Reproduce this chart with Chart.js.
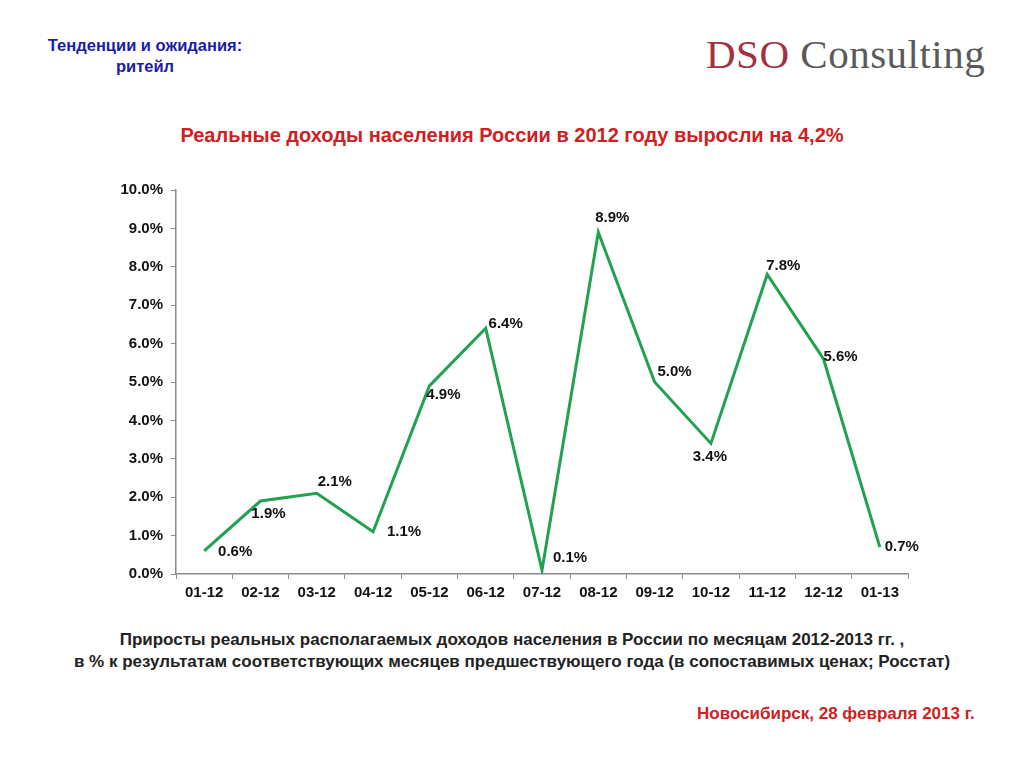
<!DOCTYPE html>
<html>
<head>
<meta charset="utf-8">
<script src="https://cdn.jsdelivr.net/npm/chart.js@4"></script>
<style>
  html, body { margin: 0; padding: 0; background: #fff; }
  body { width: 1024px; height: 768px; position: relative; overflow: hidden;
    font-family: 'Liberation Sans', Arial, sans-serif; }
  .abs { position: absolute; white-space: nowrap; }
  .section { left: 0; width: 290px; top: 35px; text-align: center; color: #1c1ca6;
    font-weight: bold; font-size: 16.5px; line-height: 21px; }
  .logo { left: 706px; top: 30px; font-family: 'Liberation Serif', 'DejaVu Serif', serif;
    font-size: 41px; color: #5a5a5a; letter-spacing: 0.5px; }
  .logo span { color: #a3303f; }
  .title { left: 0; width: 1024px; top: 124px; text-align: center; color: #d0201f;
    font-weight: bold; font-size: 20px; }
  .caption { left: 0; width: 1024px; top: 629px; text-align: center; color: #222;
    font-weight: bold; font-size: 17px; line-height: 22px; }
  .place { left: 697px; top: 704px; color: #d0201f; font-weight: bold; font-size: 17px; }
  .chart-box { position: absolute; left: 100px; top: 170px; width: 830px; height: 440px; }
</style>
</head>
<body>
<div class="abs section">Тенденции и ожидания:<br>ритейл</div>
<div class="abs logo"><span>DSO</span> Consulting</div>
<div class="abs title">Реальные доходы населения России в 2012 году выросли на 4,2%</div>
<div class="chart-box"><canvas id="chart"></canvas></div>
<div class="abs caption">Приросты реальных располагаемых доходов населения в России по месяцам 2012-2013 гг. ,<br>в % к результатам соответствующих месяцев предшествующего года (в сопоставимых ценах; Росстат)</div>
<div class="abs place">Новосибирск, 28 февраля 2013 г.</div>

<script>
// ===== data =====
const months = ['01-12', '02-12', '03-12', '04-12', '05-12', '06-12', '07-12',
  '08-12', '09-12', '10-12', '11-12', '12-12', '01-13'];
const incomeGrowth = [0.6, 1.9, 2.1, 1.1, 4.9, 6.4, 0.1, 8.9, 5.0, 3.4, 7.8, 5.6, 0.7];
const yTicks = [0, 1, 2, 3, 4, 5, 6, 7, 8, 9, 10];

// смещения подписей относительно точек (центр текста), px
const labelShift = [[31, 1], [8, 13], [18, -12], [31, 0], [14, 9], [20, -4], [28, -12],
  [14, -14], [20, -10], [-1, 13], [16, -9], [17, -2], [22, 0]];

(() => {
  const canvas = document.getElementById('chart');
  if (!canvas || typeof Chart === 'undefined') return;

  const labelPlugin = {
    id: 'pointLabels',
    afterDatasetsDraw(chart) {
      const { ctx } = chart;
      const meta = chart.getDatasetMeta(0);
      ctx.save();
      ctx.font = 'bold 15px "Liberation Sans", Arial, sans-serif';
      ctx.fillStyle = '#111';
      ctx.textAlign = 'center';
      ctx.textBaseline = 'middle';
      meta.data.forEach((pt, i) => {
        const [dx, dy] = labelShift[i];
        ctx.fillText(incomeGrowth[i].toFixed(1) + '%', pt.x + dx, pt.y + dy);
      });
      ctx.restore();
    },
  };

  const axisColor = '#8a8a8a';
  const tickFont = { family: '"Liberation Sans", Arial, sans-serif', size: 15, weight: 'bold' };

  new Chart(canvas.getContext('2d'), {
    type: 'line',
    data: {
      labels: months,
      datasets: [{
        data: incomeGrowth,
        borderColor: '#22a250',
        borderWidth: 3,
        pointRadius: 0,
        tension: 0,
        fill: false,
      }],
    },
    options: {
      responsive: true,
      maintainAspectRatio: false,
      animation: false,
      layout: { padding: { top: 20, right: 22, left: 0, bottom: 0 } },
      scales: {
        x: {
          offset: true,
          grid: { offset: true, drawOnChartArea: false, drawTicks: true, tickLength: 5,
            color: axisColor, lineWidth: 1 },
          border: { display: true, color: axisColor, width: 1.5 },
          ticks: { color: '#111', padding: 5, maxRotation: 0, autoSkip: false, font: tickFont },
          afterFit(scale) { scale.height = 36; },
        },
        y: {
          min: 0,
          max: 10,
          afterBuildTicks(scale) { scale.ticks = yTicks.map(v => ({ value: v })); },
          grid: { drawOnChartArea: false, drawTicks: true, tickLength: 5,
            color: axisColor, lineWidth: 1 },
          border: { display: true, color: axisColor, width: 1.5 },
          ticks: { color: '#111', padding: 8,
            callback: v => Number(v).toFixed(1) + '%', font: tickFont },
          afterFit(scale) { scale.width = 76; },
        },
      },
      plugins: {
        legend: { display: false },
        tooltip: { enabled: false },
      },
    },
    plugins: [labelPlugin],
  });
})();
</script>
</body>
</html>
